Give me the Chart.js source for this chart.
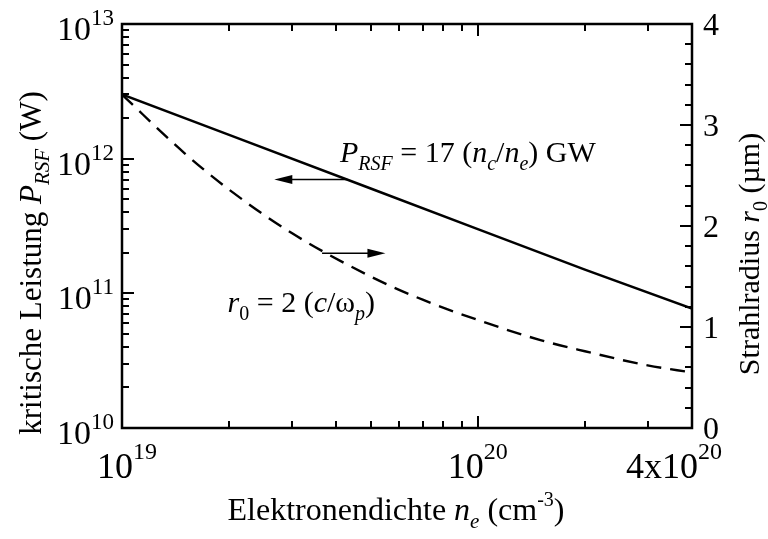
<!DOCTYPE html>
<html>
<head>
<meta charset="utf-8">
<script src="https://cdn.jsdelivr.net/npm/chart.js@4/dist/chart.umd.min.js"></script>
<style>
  html, body { margin: 0; padding: 0; background: #fff; }
  #wrap { width: 768px; height: 539px; position: relative; }
</style>
</head>
<body>
<div id="wrap"><canvas id="rsfChart"></canvas></div>
<script>
// critical power for relativistic self-focusing vs. electron density
const densityP = [1e19, 2e19, 5e19, 1e20, 2e20, 4e20];          // cm^-3
const powerRSF = [3.0e12, 1.5e12, 6.0e11, 3.0e11, 1.5e11, 7.7e10]; // W

// matched beam radius r0 = 2 c/wp
const densityR = [1e19, 1.5e19, 2e19, 3e19, 5e19, 7e19, 1e20, 1.5e20, 2e20, 3e20, 4e20];
const radiusR0 = [3.30, 2.72, 2.36, 1.93, 1.50, 1.27, 1.07, 0.87, 0.76, 0.62, 0.55]; // um

// tick labels
const xLabelValues = [1e19, 1e20, 4e20];
const xLabelBases = ['10', '10', '4x10'];
const xLabelExps = ['19', '20', '20'];
const yLabelExps = [10, 11, 12, 13];
const r0Labels = [0, 1, 2, 3, 4];

const FONT = "'Liberation Serif', 'Times New Roman', serif";

function fontFor(r) {
  return (r.italic ? 'italic ' : '') + r.size + 'px ' + FONT;
}

function runsWidth(ctx, runs) {
  let total = 0;
  runs.forEach(r => {
    ctx.font = fontFor(r);
    r.w = ctx.measureText(r.text).width;
    total += r.w;
  });
  return total;
}

// draw a run of text pieces (sub/superscripts via dy)
function drawRuns(ctx, runs, x, y, align) {
  const total = runsWidth(ctx, runs);
  let cx = align === 'right' ? x - total : align === 'center' ? x - total / 2 : x;
  runs.forEach(r => {
    ctx.font = fontFor(r);
    ctx.fillText(r.text, cx, y + (r.dy || 0));
    cx += r.w;
  });
}

function arrow(ctx, x1, y, x2) {
  const dir = x2 > x1 ? 1 : -1;
  ctx.beginPath();
  ctx.moveTo(x1, y);
  ctx.lineTo(x2 - dir * 14, y);
  ctx.lineWidth = 1.5;
  ctx.stroke();
  ctx.beginPath();
  ctx.moveTo(x2, y);
  ctx.lineTo(x2 - dir * 18, y - 4.5);
  ctx.lineTo(x2 - dir * 18, y + 4.5);
  ctx.closePath();
  ctx.fill();
}

const axesPlugin = {
  id: 'axesPlugin',
  afterDatasetsDraw(chart) {
    const { ctx, chartArea: a, scales } = chart;
    const xs = scales.x, yl = scales.y, yr = scales.y1;
    ctx.save();
    ctx.strokeStyle = '#000';
    ctx.fillStyle = '#000';
    ctx.textBaseline = 'alphabetic';
    ctx.textAlign = 'left';

    // frame
    ctx.lineWidth = 2.5;
    ctx.strokeRect(a.left, a.top, a.right - a.left, a.bottom - a.top);

    ctx.lineWidth = 2;
    ctx.beginPath();
    // x ticks, bottom and top
    for (let d = 19; d <= 20; d++) {
      for (let m = 1; m <= 9; m++) {
        const v = m * Math.pow(10, d);
        if (v < xs.min || v > xs.max) continue;
        const px = Math.round(xs.getPixelForValue(v));
        const len = m === 1 ? 12 : 7;
        ctx.moveTo(px, a.bottom); ctx.lineTo(px, a.bottom - len);
        ctx.moveTo(px, a.top); ctx.lineTo(px, a.top + len);
      }
    }
    // left log ticks
    for (let d = 10; d <= 13; d++) {
      for (let m = 1; m <= 9; m++) {
        const v = m * Math.pow(10, d);
        if (v > yl.max) continue;
        const py = Math.round(yl.getPixelForValue(v));
        const len = m === 1 ? 12 : 7;
        ctx.moveTo(a.left, py); ctx.lineTo(a.left + len, py);
      }
    }
    // right linear ticks
    for (let i = 0; i <= 20; i++) {
      const v = i * 0.2;
      const py = Math.round(yr.getPixelForValue(v));
      const len = i % 5 === 0 ? 12 : 7;
      ctx.moveTo(a.right, py); ctx.lineTo(a.right - len, py);
    }
    ctx.stroke();

    // left tick labels 10^n
    yLabelExps.forEach(e => {
      const py = yl.getPixelForValue(Math.pow(10, e));
      drawRuns(ctx, [
        { text: '10', size: 34 },
        { text: String(e), size: 23, dy: -15 }
      ], a.left - 8, py + 16, 'right');
    });

    // right tick labels
    r0Labels.forEach(v => {
      const py = yr.getPixelForValue(v);
      drawRuns(ctx, [{ text: String(v), size: 32 }], a.right + 11, py + 11, 'left');
    });

    // bottom tick labels
    xLabelValues.forEach((v, i) => {
      const px = xs.getPixelForValue(v);
      const runs = [
        { text: xLabelBases[i], size: 36 },
        { text: xLabelExps[i], size: 24, dy: -19 }
      ];
      if (i === xLabelValues.length - 1) {
        drawRuns(ctx, runs, px + 30, a.bottom + 50, 'right');
      } else {
        drawRuns(ctx, runs, px + (i === 0 ? 5 : 0), a.bottom + 50, 'center');
      }
    });

    // axis titles
    drawRuns(ctx, [
      { text: 'Elektronendichte ', size: 32 },
      { text: 'n', size: 32, italic: true },
      { text: 'e', size: 21, italic: true, dy: 8 },
      { text: ' (cm', size: 32 },
      { text: '-3', size: 20, dy: -14 },
      { text: ')', size: 32 }
    ], 396, 520, 'center');

    ctx.save();
    ctx.translate(41, 263);
    ctx.rotate(-Math.PI / 2);
    drawRuns(ctx, [
      { text: 'kritische Leistung ', size: 31 },
      { text: 'P', size: 31, italic: true },
      { text: 'RSF', size: 21, italic: true, dy: 8 },
      { text: ' (W)', size: 31 }
    ], 0, 0, 'center');
    ctx.restore();

    ctx.save();
    ctx.translate(759, 254);
    ctx.rotate(-Math.PI / 2);
    drawRuns(ctx, [
      { text: 'Strahlradius ', size: 30 },
      { text: 'r', size: 30, italic: true },
      { text: '0', size: 20, dy: 8 },
      { text: ' (\u00b5m)', size: 30 }
    ], 0, 0, 'center');
    ctx.restore();

    // curve labels, anchored in data units
    drawRuns(ctx, [
      { text: 'P', size: 30, italic: true },
      { text: 'RSF', size: 20, italic: true, dy: 8 },
      { text: ' = 17 (', size: 30 },
      { text: 'n', size: 30, italic: true },
      { text: 'c', size: 20, italic: true, dy: 8 },
      { text: '/', size: 30 },
      { text: 'n', size: 30, italic: true },
      { text: 'e', size: 20, italic: true, dy: 8 },
      { text: ') GW', size: 30 }
    ], xs.getPixelForValue(4.1e19), yl.getPixelForValue(9.5e11), 'left');

    drawRuns(ctx, [
      { text: 'r', size: 30, italic: true },
      { text: '0', size: 20, dy: 8 },
      { text: ' = 2 (', size: 30 },
      { text: 'c', size: 30, italic: true },
      { text: '/\u03c9', size: 30 },
      { text: 'p', size: 20, italic: true, dy: 8 },
      { text: ')', size: 30 }
    ], xs.getPixelForValue(1.98e19), yr.getPixelForValue(1.15), 'left');

    // arrows pointing to the matching axis
    arrow(ctx, xs.getPixelForValue(4.3e19), yl.getPixelForValue(7.0e11), xs.getPixelForValue(2.68e19));
    arrow(ctx, xs.getPixelForValue(3.65e19), yr.getPixelForValue(1.73), xs.getPixelForValue(5.5e19));

    ctx.restore();
  }
};

new Chart(document.getElementById('rsfChart'), {
  type: 'line',
  data: {
    datasets: [
      {
        label: 'P_RSF',
        data: densityP.map((x, i) => ({ x, y: powerRSF[i] })),
        yAxisID: 'y',
        borderColor: '#000',
        borderWidth: 2.5,
        pointRadius: 0,
        tension: 0
      },
      {
        label: 'r0',
        data: densityR.map((x, i) => ({ x, y: radiusR0[i] })),
        yAxisID: 'y1',
        borderColor: '#000',
        borderWidth: 2.4,
        borderDash: [15, 9],
        pointRadius: 0,
        cubicInterpolationMode: 'monotone'
      }
    ]
  },
  options: {
    responsive: true,
    maintainAspectRatio: false,
    animation: false,
    devicePixelRatio: 1,
    layout: { padding: { left: 122, right: 76, top: 24, bottom: 111 } },
    plugins: { legend: { display: false }, tooltip: { enabled: false } },
    scales: {
      x: { type: 'logarithmic', min: 1e19, max: 4e20, display: false },
      y: { type: 'logarithmic', min: 1e10, max: 1e13, display: false },
      y1: { type: 'linear', min: 0, max: 4, display: false, position: 'right' }
    }
  },
  plugins: [axesPlugin]
});
</script>
</body>
</html>
